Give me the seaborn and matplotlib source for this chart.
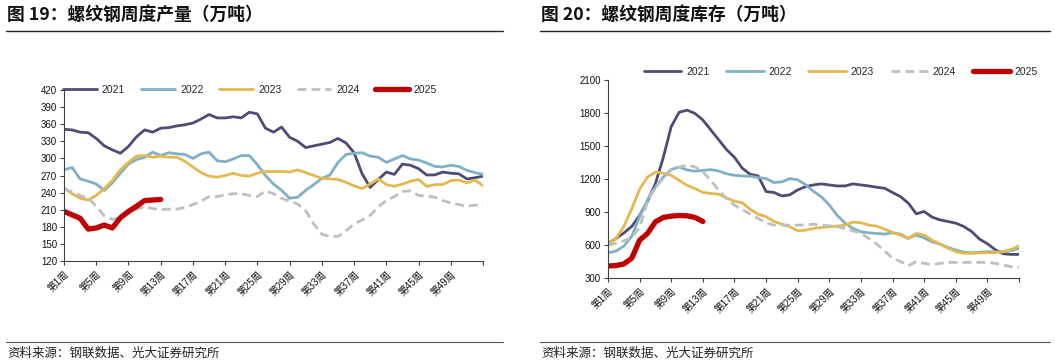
import numpy as np
import pandas as pd
import seaborn as sns
import matplotlib.pyplot as plt

# ---- data ----
years = ["2021", "2022", "2023", "2024", "2025"]
tick_labels = ["第1周", "第5周", "第9周", "第13周", "第17周", "第21周", "第25周",
               "第29周", "第33周", "第37周", "第41周", "第45周", "第49周", ""]

# 螺纹钢周度产量 (万吨), week 1..53
output_2021 = [351, 350, 346, 345, 335, 322, 315, 309, 321, 338, 350, 346, 353, 354, 357, 359,
               362, 369, 377, 371, 371, 373, 371, 381, 378, 353, 346, 355, 337, 330, 319, 322,
               325, 328, 335, 327, 310, 273, 249, 263, 276, 272, 290, 288, 282, 271, 271, 276,
               274, 273, 264, 266, 269]
output_2022 = [280, 284, 264, 260, 255, 244, 257, 274, 290, 298, 302, 311, 305, 310, 308, 307,
               300, 308, 311, 296, 294, 299, 305, 305, 289, 270, 255, 244, 230, 232, 244, 254,
               265, 271, 293, 307, 309, 310, 304, 302, 293, 299, 305, 299, 297, 292, 286, 285,
               288, 286, 279, 275, 272]
output_2023 = [248, 238, 230, 227, 235, 247, 261, 280, 293, 304, 305, 302, 304, 302, 302, 295,
               285, 275, 269, 267, 270, 274, 270, 269, 274, 277, 277, 277, 276, 280, 275, 270,
               265, 264, 263, 258, 252, 247, 255, 264, 254, 251, 255, 260, 263, 251, 254, 254,
               261, 262, 257, 262, 252]
output_2024 = [247, 241, 235, 230, 216, 199, 193, 196, 203, 211, 215, 212, 210, 211, 211, 214,
               219, 225, 233, 233, 236, 238, 238, 235, 233, 243, 238, 230, 225, 220, 208, 185,
               167, 163, 163, 173, 185, 192, 200, 215, 226, 233, 242, 243, 235, 234, 232, 226,
               222, 219, 216, 218, 217]
output_2025 = [207, 201, 195, 176, 178, 183, 178, 196, 207, 216, 226, 227, 228]

# 螺纹钢周度库存 (万吨), week 1..53
stock_2021 = [615, 660, 710, 770, 870, 1000, 1160, 1400, 1680, 1810, 1830, 1800, 1740, 1650,
              1560, 1470, 1400, 1300, 1245, 1230, 1088, 1079, 1048, 1058, 1103, 1133, 1148, 1158,
              1148, 1139, 1139, 1158, 1148, 1139, 1127, 1118, 1079, 1042, 982, 885, 906, 855,
              830, 815, 800, 770, 724, 655, 612, 558, 521, 515, 515]
stock_2022 = [530, 545, 590, 680, 860, 1010, 1130, 1220, 1290, 1310, 1285, 1273, 1280, 1288,
              1275, 1250, 1236, 1230, 1227, 1215, 1206, 1170, 1176, 1206, 1195, 1150, 1090, 1040,
              965, 870, 800, 752, 721, 712, 706, 700, 712, 700, 661, 691, 665, 630, 609, 579,
              555, 535, 530, 535, 539, 539, 539, 550, 570]
stock_2023 = [615, 660, 770, 930, 1110, 1220, 1265, 1255, 1236, 1190, 1145, 1115, 1080, 1070,
              1064, 1030, 1000, 985, 925, 882, 858, 815, 790, 767, 730, 736, 752, 761, 767, 773,
              782, 810, 803, 782, 773, 745, 715, 691, 661, 706, 691, 645, 609, 572, 540, 525,
              524, 530, 530, 532, 539, 560, 594]
stock_2024 = [600, 615, 640, 665, 760, 1000, 1130, 1206, 1282, 1312, 1327, 1312, 1267, 1191,
              1100, 1024, 964, 924, 882, 843, 803, 782, 782, 782, 782, 785, 790, 782, 776, 767,
              752, 730, 706, 661, 609, 545, 480, 450, 412, 449, 433, 424, 433, 442, 442, 442,
              442, 442, 442, 433, 418, 403, 397]
stock_2025 = [410, 413, 428, 480, 645, 706, 812, 852, 864, 870, 867, 852, 815]

colors = ["#4d4c74", "#7fb0c8", "#e2b94e", "#bfbfbf", "#c00000"]
widths = [2.0, 2.0, 2.0, 2.0, 3.8]
styles = ["-", "-", "-", (0, (3.2, 1.8)), "-"]


def long_frame(series):
    rows = []
    for year, values in zip(years, series):
        for i, v in enumerate(values):
            rows.append({"year": year, "week": i, "value": v})
    return pd.DataFrame(rows)


sns.set_style("ticks")
plt.rcParams["font.family"] = ["Liberation Sans", "Noto Sans CJK SC"]
plt.rcParams["axes.unicode_minus"] = False

fig = plt.figure(figsize=(10.55, 3.63), dpi=100)
W, H = 1055, 363


def fx(px):
    return px / W


def fy(py):
    return 1 - py / H


def draw_panel(rect, df, yticks, legend_pos, handle_len, col_space):
    ax = fig.add_axes(rect)
    for year, c, lw, ls in zip(years, colors, widths, styles):
        sub = df[df["year"] == year]
        sns.lineplot(data=sub, x="week", y="value", ax=ax, color=c, linewidth=lw,
                     linestyle=ls, label=year, errorbar=None)
    ax.set_xlim(0, 52)
    ax.set_ylim(yticks[0], yticks[-1])
    ax.set_yticks(yticks)
    ax.set_xticks(np.arange(0, 53, 4))
    ax.set_xticklabels(tick_labels, rotation=45, ha="right", rotation_mode="anchor")
    ax.set_xlabel("")
    ax.set_ylabel("")
    for s in ["top", "right"]:
        ax.spines[s].set_visible(False)
    for s in ["left", "bottom"]:
        ax.spines[s].set_color("#404040")
        ax.spines[s].set_linewidth(0.8)
    ax.tick_params(axis="both", labelsize=7, length=3, width=0.8, color="#404040",
                   labelcolor="#111111", pad=2)
    ax.tick_params(axis="x", pad=3)
    ax.legend(ncol=5, loc="center", bbox_to_anchor=legend_pos,
              bbox_transform=fig.transFigure, frameon=False, fontsize=7.5,
              handlelength=handle_len, handletextpad=0.45, columnspacing=col_space,
              borderaxespad=0)
    return ax


df_out = long_frame([output_2021, output_2022, output_2023, output_2024, output_2025])
df_stock = long_frame([stock_2021, stock_2022, stock_2023, stock_2024, stock_2025])

draw_panel([fx(64), fy(261), fx(419), fy(90) - fy(261)], df_out,
           list(range(120, 421, 30)), (fx(250), fy(90)), 3.3, 1.5)
draw_panel([fx(608), fy(278), fx(411), fy(80.5) - fy(278)], df_stock,
           list(range(300, 2101, 300)), (fx(841), fy(72)), 3.6, 1.6)

# titles, rules and source notes
cjk = ["Noto Sans CJK SC", "Liberation Sans"]
for x0, x1, title in [(6, 503, "图 19：螺纹钢周度产量（万吨）"),
                      (540, 1050, "图 20：螺纹钢周度库存（万吨）")]:
    fig.text(fx(x0 + 1), fy(15), title, family=cjk, fontsize=12.8, fontweight="bold",
             va="center", ha="left", color="#111111")
    fig.add_artist(plt.Line2D([fx(x0), fx(x1)], [fy(31), fy(31)], color="#222222", lw=1.0))
    fig.add_artist(plt.Line2D([fx(x0), fx(x1)], [fy(342), fy(342)], color="#555555", lw=0.8))
    fig.text(fx(x0 + 1), fy(353), "资料来源：钢联数据、光大证券研究所", family=cjk,
             fontsize=9, va="center", ha="left", color="#222222")

fig.savefig("out.png", dpi=100)
